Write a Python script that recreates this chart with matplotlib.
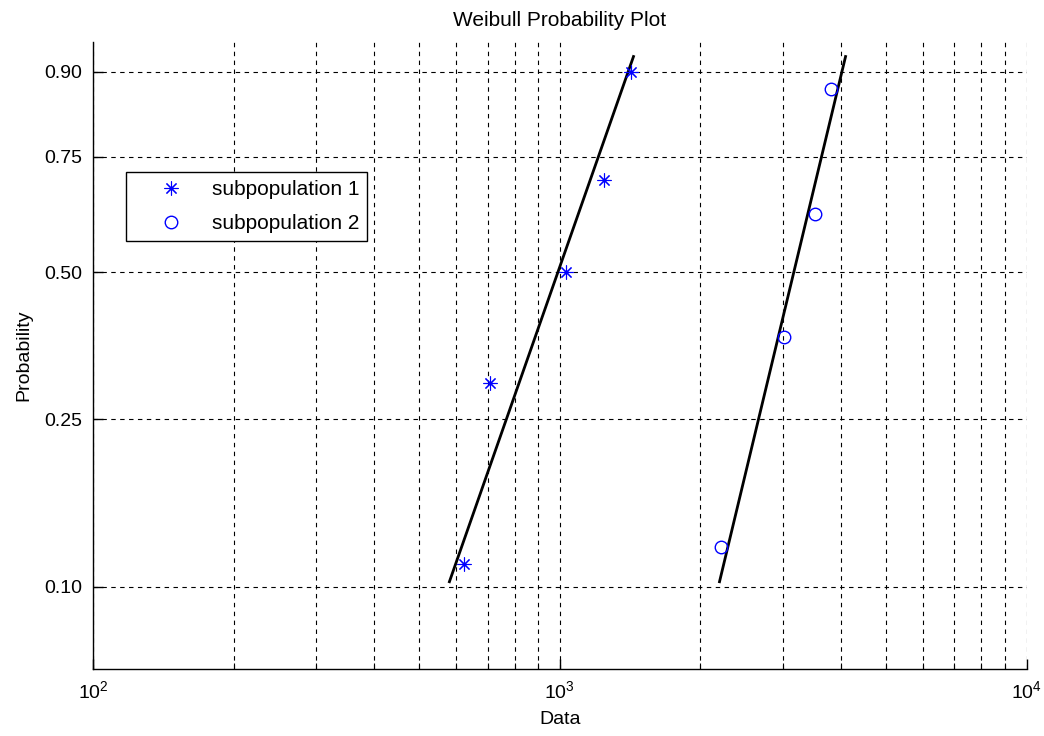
import numpy as np
import matplotlib
matplotlib.use("Agg")
import matplotlib.pyplot as plt
from matplotlib.ticker import LogLocator, FixedLocator, NullFormatter

plt.rcParams['font.family'] = ['Liberation Sans', 'DejaVu Sans']
plt.rcParams['mathtext.default'] = 'regular'

# sample data and plotting positions
sub1_x = [622, 707, 1033, 1246, 1421]
sub1_p = [0.114, 0.30, 0.50, 0.70, 0.90]
sub2_x = [2209, 3014, 3512, 3801]
sub2_p = [0.125, 0.375, 0.625, 0.875]

# reference lines: x at the low / high probability ends
fit_p = [0.103, 0.920]
fit1_x = [580, 1438]
fit2_x = [2198, 4093]

prob_ticks = [0.10, 0.25, 0.50, 0.75, 0.90]
prob_labels = ['0.10', '0.25', '0.50', '0.75', '0.90']


def wbl_fwd(p):
    p = np.asarray(p, dtype=float)
    with np.errstate(all='ignore'):
        return np.log(-np.log(1 - np.clip(p, 1e-12, 1 - 1e-12)))


def wbl_inv(y):
    y = np.asarray(y, dtype=float)
    return 1 - np.exp(-np.exp(y))


fig = plt.figure(figsize=(10.44, 7.36), dpi=100)
ax = fig.add_axes([0.0891, 0.0906, 0.8943, 0.8527])

ax.set_xscale('log')
ax.set_yscale('function', functions=(wbl_fwd, wbl_inv))

ax.plot(fit1_x, fit_p, color='black', lw=2.0, zorder=3)
ax.plot(fit2_x, fit_p, color='black', lw=2.0, zorder=3)
ax.plot(sub1_x, sub1_p, linestyle='none', marker=(8, 2, 0), ms=10, mew=0.8,
        color='blue', label='subpopulation 1', zorder=4)
ax.plot(sub2_x, sub2_p, linestyle='none', marker='o', ms=9, mew=1.0,
        mfc='none', mec='blue', label='subpopulation 2', zorder=4)

ax.set_xlim(100, 10000)
ax.set_ylim(0.0623, 0.9367)

ax.xaxis.set_major_locator(LogLocator(base=10))
ax.xaxis.set_minor_locator(LogLocator(base=10, subs=np.arange(2, 10)))
ax.xaxis.set_minor_formatter(NullFormatter())
ax.yaxis.set_major_locator(FixedLocator(prob_ticks))
ax.set_yticklabels(prob_labels)
ax.yaxis.set_minor_locator(FixedLocator([]))

grid_kw = dict(color='black', linewidth=0.8, linestyle=(0, (4, 4)))
ax.grid(True, which='major', axis='both', **grid_kw)
ax.grid(True, which='minor', axis='x', **grid_kw)

ax.spines['top'].set_visible(False)
ax.spines['right'].set_visible(False)
for s in ('left', 'bottom'):
    ax.spines[s].set_linewidth(1.0)

ax.tick_params(which='major', direction='in', length=7, width=1.0,
               labelsize=14, pad=8)
ax.tick_params(which='minor', direction='in', length=4, width=0.8)

ax.set_title('Weibull Probability Plot', fontsize=15, pad=11)
ax.set_xlabel('Data', fontsize=14, labelpad=6)
ax.set_ylabel('Probability', fontsize=14, labelpad=8)

leg = ax.legend(loc='upper left', bbox_to_anchor=(0.0353, 0.792),
                borderaxespad=0, fontsize=15, fancybox=False,
                edgecolor='black', framealpha=1, handlelength=3.6,
                handletextpad=0.15, borderpad=0.38, labelspacing=0.72)
leg.get_frame().set_linewidth(1.0)

fig.savefig('out.png', dpi=100)
